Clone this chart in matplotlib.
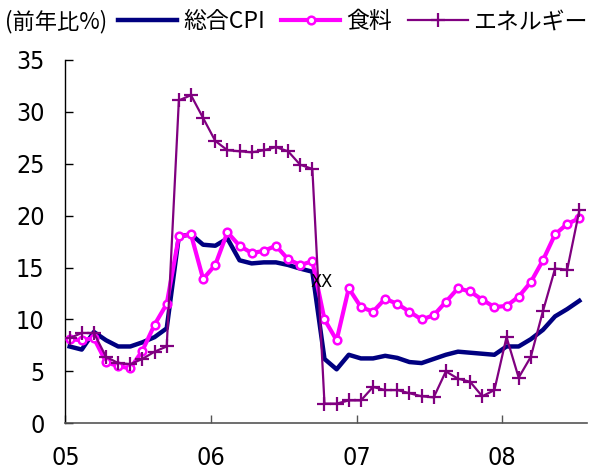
import matplotlib
matplotlib.use("Agg")
import matplotlib.pyplot as plt
from matplotlib import font_manager

plt.rcParams['font.family'] = ['Noto Sans CJK JP', 'DejaVu Sans']

# 2005年1月〜2008年7月（月次、前年比%）
months = list(range(43))
cpi = [7.4, 7.1, 8.8, 8.0, 7.4, 7.4, 7.8, 8.3, 9.15, 18.0,
       18.2, 17.2, 17.1, 17.8, 15.7, 15.4, 15.5, 15.5, 15.25, 14.9,
       14.6, 6.2, 5.2, 6.6, 6.25, 6.25, 6.5, 6.3, 5.9, 5.8,
       6.2, 6.6, 6.9, 6.8, 6.7, 6.6, 7.4, 7.4, 8.1, 9.0,
       10.3, 11.0, 11.8]
food = [8.1, 8.0, 8.2, 5.9, 5.5, 5.3, 7.0, 9.5, 11.5, 18.0,
        18.2, 13.9, 15.25, 18.4, 17.1, 16.4, 16.6, 17.1, 15.8, 15.25,
        15.6, 10.0, 8.0, 13.0, 11.2, 10.75, 12.0, 11.5, 10.75, 10.0,
        10.4, 11.7, 13.0, 12.7, 11.9, 11.2, 11.3, 12.2, 13.6, 15.7,
        18.2, 19.2, 19.75]
energy = [8.2, 8.7, 8.7, 6.4, 5.8, 5.7, 6.2, 6.9, 7.4, 31.1,
          31.6, 29.4, 27.2, 26.3, 26.2, 26.1, 26.3, 26.6, 26.2, 24.9,
          24.5, 1.9, 1.9, 2.2, 2.2, 3.5, 3.2, 3.2, 2.9, 2.6,
          2.5, 5.0, 4.3, 4.0, 2.6, 3.2, 8.3, 4.4, 6.4, 10.8,
          14.9, 14.8, 20.5]
year_ticks = [0, 12, 24, 36]
year_labels = ['05', '06', '07', '08']

x = [m + 0.35 for m in months]

# 数字は幅の狭い書体で
narrow = font_manager.FontProperties(family='DejaVu Sans', stretch='condensed', size=18)

fig = plt.figure(figsize=(5.89, 4.68), dpi=100)
ax = fig.add_axes([0.111, 0.0955, 0.886, 0.7765])

ax.plot(x, cpi, color='#000080', lw=3.2, label='総合CPI', zorder=2)
ax.plot(x, food, color='#ff00ff', lw=3.0, marker='o', ms=5.5,
        mfc='white', mec='#ff00ff', mew=1.8, label='食料', zorder=3)
ax.plot(x, energy, color='#800080', lw=1.6, marker='+', ms=10,
        mew=1.6, label='エネルギー', zorder=4)

ax.text(21.1, 13.6, 'XX', ha='center', va='center', zorder=6,
        fontproperties=font_manager.FontProperties(family='DejaVu Sans',
                                                   stretch='condensed', size=13))

ax.set_xlim(0, 43)
ax.set_ylim(0, 35)
ax.set_yticks(range(0, 36, 5))
ax.set_xticks(year_ticks)
ax.set_xticklabels(year_labels)
ax.tick_params(direction='in', length=6, width=1)
ax.tick_params(axis='x', pad=16, color='#555555')
ax.tick_params(axis='y', pad=15, color='black')
for lbl in ax.get_xticklabels() + ax.get_yticklabels():
    lbl.set_fontproperties(narrow)
for side in ['top', 'right']:
    ax.spines[side].set_visible(False)
ax.spines['left'].set_color('black')
ax.spines['left'].set_linewidth(1.0)
ax.spines['bottom'].set_color('#555555')
ax.spines['bottom'].set_linewidth(1.2)

fig.text(0.008, 0.953, '(前年比%)', fontsize=16, va='center', ha='left')
handles, labels = ax.get_legend_handles_labels()
fig.legend(handles, labels, loc='center left', bbox_to_anchor=(0.2, 0.953),
           ncol=3, frameon=False, fontsize=16.5, handlelength=2.6,
           handletextpad=0.25, columnspacing=0.7, borderpad=0,
           borderaxespad=0)

fig.savefig('out.png', dpi=100)
